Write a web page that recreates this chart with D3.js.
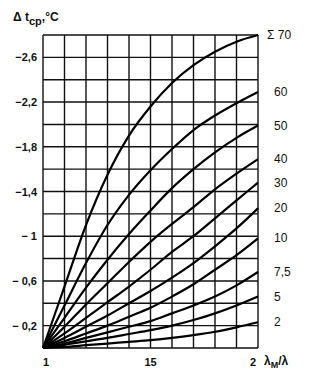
<!DOCTYPE html>
<html>
<head>
<meta charset="utf-8">
<script src="https://cdn.jsdelivr.net/npm/d3@7"></script>
<style>
  body { margin: 0; background: #fff; }
  svg text { font-family: "Liberation Sans", Arial, sans-serif; fill: #111; }
</style>
</head>
<body>
<div id="chart"></div>
<script>
// абсцисса: отношение λм/λ
var xValues = [1, 1.1, 1.2, 1.3, 1.4, 1.5, 1.6, 1.7, 1.8, 1.9, 2];

// подписи кривых (Σ)
var curveLabels = ["Σ 70", "60", "50", "40", "30", "20", "10", "7,5", "5", "2"];

// Δt_ср, °C для каждой кривой
var c70 = [0, -0.55, -1.10, -1.55, -1.90, -2.16, -2.37, -2.53, -2.65, -2.74, -2.80];
var c60 = [0, -0.38, -0.76, -1.10, -1.37, -1.59, -1.78, -1.95, -2.08, -2.19, -2.29];
var c50 = [0, -0.27, -0.54, -0.79, -1.02, -1.23, -1.43, -1.60, -1.75, -1.88, -1.99];
var c40 = [0, -0.19, -0.39, -0.58, -0.77, -0.95, -1.11, -1.26, -1.42, -1.56, -1.69];
var c30 = [0, -0.13, -0.27, -0.41, -0.55, -0.70, -0.86, -1.00, -1.16, -1.32, -1.48];
var c20 = [0, -0.09, -0.19, -0.29, -0.40, -0.51, -0.63, -0.76, -0.91, -1.07, -1.25];
var c10 = [0, -0.06, -0.13, -0.20, -0.28, -0.36, -0.46, -0.57, -0.70, -0.83, -0.98];
var c75 = [0, -0.04, -0.09, -0.14, -0.19, -0.24, -0.31, -0.38, -0.46, -0.56, -0.68];
var c5  = [0, -0.03, -0.06, -0.09, -0.125, -0.16, -0.20, -0.25, -0.31, -0.38, -0.46];
var c2  = [0, -0.01, -0.025, -0.04, -0.055, -0.07, -0.09, -0.115, -0.145, -0.185, -0.23];
var curves = [c70, c60, c50, c40, c30, c20, c10, c75, c5, c2];

// подписи осей
var yTicks = [-2.6, -2.2, -1.8, -1.4, -1, -0.6, -0.2];
var yTickText = ["−2,6", "−2,2", "−1,8", "−1,4", "− 1", "− 0,6", "− 0,2"];
var xTicks = [1, 1.5, 2];
var xTickText = ["1", "15", "2"];

var width = 312,
    height = 378;

var x = d3.scaleLinear().domain([1, 2]).range([43, 258]);
var y = d3.scaleLinear().domain([0, -2.8]).range([348, 35]);

var svg = d3.select("#chart").append("svg")
    .attr("width", width)
    .attr("height", height);

// сетка
var grid = svg.append("g")
    .attr("stroke", "#111")
    .attr("stroke-width", 1.4);

grid.selectAll(".v").data(d3.range(0, 11).map(function (i) { return 1 + i / 10; }))
    .enter().append("line")
    .attr("x1", function (d) { return x(d); })
    .attr("x2", function (d) { return x(d); })
    .attr("y1", y(0))
    .attr("y2", y(-2.8));

grid.selectAll(".h").data(d3.range(0, 15).map(function (i) { return -i / 5; }))
    .enter().append("line")
    .attr("x1", x(1))
    .attr("x2", x(2))
    .attr("y1", function (d) { return y(d); })
    .attr("y2", function (d) { return y(d); });

// кривые
var line = d3.line()
    .x(function (d, i) { return x(xValues[i]); })
    .y(function (d) { return y(d); })
    .curve(d3.curveMonotoneX);

svg.append("g").selectAll("path").data(curves)
    .enter().append("path")
    .attr("d", line)
    .attr("fill", "none")
    .attr("stroke", "#000")
    .attr("stroke-width", 2.2);

// подписи кривых
svg.append("g").selectAll("text").data(curves)
    .enter().append("text")
    .attr("x", function (d, i) { return i === 0 ? 267 : 274; })
    .attr("y", function (d) { return y(d[d.length - 1]) + 4; })
    .attr("font-size", 12)
    .text(function (d, i) { return curveLabels[i]; });

// ось Y
svg.append("g").selectAll("text").data(yTicks)
    .enter().append("text")
    .attr("x", 37)
    .attr("y", function (d) { return y(d) + 4; })
    .attr("text-anchor", "end")
    .attr("font-size", 11)
    .attr("font-weight", "bold")
    .text(function (d, i) { return yTickText[i]; });

// ось X
svg.append("g").selectAll("text").data(xTicks)
    .enter().append("text")
    .attr("x", function (d, i) { return x(d) + [3, 0, -5][i]; })
    .attr("y", 366)
    .attr("text-anchor", "middle")
    .attr("font-size", 11)
    .attr("font-weight", "bold")
    .text(function (d, i) { return xTickText[i]; });

svg.append("text")
    .attr("x", 264)
    .attr("y", 365)
    .attr("font-size", 12)
    .attr("font-weight", "bold")
    .html('λ<tspan dy="3" font-size="9">M</tspan><tspan dy="-3">/λ</tspan>');

// заголовок оси Y
svg.append("text")
    .attr("x", 13)
    .attr("y", 21)
    .attr("font-size", 12)
    .attr("font-weight", "bold")
    .html('Δ t<tspan dy="4" font-size="11">cp</tspan><tspan dy="-4">,°C</tspan>');
</script>
</body>
</html>
